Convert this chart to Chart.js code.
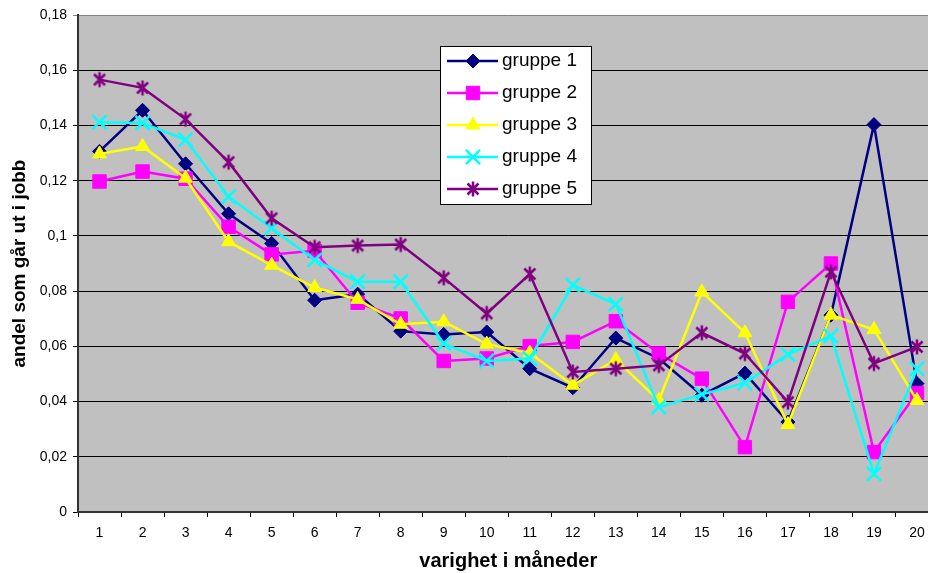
<!DOCTYPE html>
<html>
<head>
<meta charset="utf-8">
<script src="https://cdn.jsdelivr.net/npm/chart.js@4.4.1/dist/chart.umd.min.js"></script>
<style>
  html, body { margin: 0; padding: 0; background: #fff; overflow: hidden; }
  #wrap { width: 951px; height: 573px; }
</style>
</head>
<body>
<div id="wrap"><canvas id="chart"></canvas></div>
<script>
// months 1..20
const months = ['1','2','3','4','5','6','7','8','9','10','11','12','13','14','15','16','17','18','19','20'];

const gruppe1 = [0.1306, 0.1455, 0.1261, 0.1080, 0.0973, 0.0767, 0.0789, 0.0655, 0.0643, 0.0652,
                 0.0519, 0.0450, 0.0630, 0.0556, 0.0423, 0.0503, 0.0326, 0.0713, 0.1403, 0.0465];
const gruppe2 = [0.1197, 0.1233, 0.1207, 0.1033, 0.0933, 0.0946, 0.0758, 0.0701, 0.0547, 0.0556,
                 0.0601, 0.0616, 0.0691, 0.0574, 0.0483, 0.0235, 0.0761, 0.0900, 0.0217, 0.0431];
const gruppe3 = [0.1297, 0.1324, 0.1209, 0.0979, 0.0894, 0.0813, 0.0770, 0.0680, 0.0689, 0.0608,
                 0.0576, 0.0459, 0.0552, 0.0404, 0.0797, 0.0649, 0.0317, 0.0713, 0.0661, 0.0404];
const gruppe4 = [0.1412, 0.1409, 0.1348, 0.1142, 0.1028, 0.0913, 0.0834, 0.0834, 0.0610, 0.0547,
                 0.0556, 0.0822, 0.0753, 0.0380, 0.0426, 0.0467, 0.0571, 0.0638, 0.0138, 0.0519];
const gruppe5 = [0.1566, 0.1536, 0.1423, 0.1267, 0.1064, 0.0959, 0.0965, 0.0969, 0.0848, 0.0719,
                 0.0862, 0.0507, 0.0519, 0.0531, 0.0649, 0.0574, 0.0398, 0.0870, 0.0538, 0.0598];

const seriesNames = ['gruppe 1', 'gruppe 2', 'gruppe 3', 'gruppe 4', 'gruppe 5'];

const FONT = "'Liberation Sans', Arial, sans-serif";

// asterisk marker like the excel one (X plus a vertical bar)
function makeStar(color) {
  const c = document.createElement('canvas');
  c.width = 18; c.height = 18;
  const g = c.getContext('2d');
  g.strokeStyle = color;
  g.lineWidth = 2.5;
  g.lineCap = 'butt';
  g.beginPath();
  g.moveTo(9, 1.5); g.lineTo(9, 16.5);
  g.moveTo(3.5, 3.5); g.lineTo(14.5, 14.5);
  g.moveTo(14.5, 3.5); g.lineTo(3.5, 14.5);
  g.stroke();
  return c;
}

const bgPlugin = {
  id: 'plotBg',
  beforeDraw(chart) {
    const { ctx, chartArea: a } = chart;
    ctx.save();
    ctx.fillStyle = '#c0c0c0';
    ctx.fillRect(a.left, a.top, a.right - a.left, a.bottom - a.top);
    ctx.restore();
  }
};

const legendPlugin = {
  id: 'boxLegend',
  afterDraw(chart) {
    const ctx = chart.ctx;
    ctx.save();
    ctx.fillStyle = '#fff';
    ctx.strokeStyle = '#000';
    ctx.lineWidth = 1;
    ctx.fillRect(440.5, 46.5, 151, 158);
    ctx.strokeRect(440.5, 46.5, 151, 158);
    chart.data.datasets.forEach((ds, i) => {
      const y = 61 + i * 32;
      ctx.strokeStyle = ds.borderColor;
      ctx.lineWidth = ds.borderWidth;
      ctx.beginPath();
      ctx.moveTo(447, y);
      ctx.lineTo(498, y);
      ctx.stroke();
      ctx.fillStyle = ds.pointBackgroundColor;
      ctx.strokeStyle = ds.pointBorderColor;
      ctx.lineWidth = ds.pointBorderWidth;
      Chart.helpers.drawPoint(ctx, {
        pointStyle: ds.pointStyle,
        radius: ds.pointRadius,
        borderWidth: ds.pointBorderWidth,
        rotation: 0
      }, 473, y);
      ctx.fillStyle = '#000';
      ctx.font = '19px ' + FONT;
      ctx.textBaseline = 'middle';
      ctx.textAlign = 'left';
      ctx.fillText(ds.label, 502, y);
    });
    ctx.restore();
  }
};

function line(label, data, color, style, radius, bw, order) {
  return {
    label,
    data,
    borderColor: color,
    backgroundColor: color,
    borderWidth: 2.5,
    pointStyle: style,
    pointRadius: radius,
    pointHoverRadius: radius,
    pointBackgroundColor: color,
    pointBorderColor: color,
    pointBorderWidth: bw,
    tension: 0,
    fill: false,
    order
  };
}

new Chart(document.getElementById('chart').getContext('2d'), {
  type: 'line',
  data: {
    labels: months,
    datasets: [
      line(seriesNames[0], gruppe1, '#000080', 'rectRot', 7, 1, 5),
      line(seriesNames[1], gruppe2, '#ff00ff', 'rect', 9.5, 1, 4),
      line(seriesNames[2], gruppe3, '#ffff00', 'triangle', 8, 1, 3),
      line(seriesNames[3], gruppe4, '#00ffff', 'crossRot', 10, 2.5, 2),
      line(seriesNames[4], gruppe5, '#800080', makeStar('#800080'), 8, 2.5, 1)
    ]
  },
  options: {
    responsive: true,
    maintainAspectRatio: false,
    animation: false,
    layout: { padding: { top: 15, right: 1, left: 0, bottom: 0 } },
    plugins: {
      legend: { display: false },
      tooltip: { enabled: false }
    },
    scales: {
      x: {
        offset: true,
        grid: { display: true, drawOnChartArea: false, offset: true, tickLength: 5, color: '#000' },
        border: { color: '#333', width: 2 },
        ticks: { color: '#000', font: { family: FONT, size: 14 }, padding: 8, maxRotation: 0, autoSkip: false },
        title: { display: true, text: 'varighet i måneder', color: '#000',
                 font: { family: FONT, size: 20, weight: 'bold' }, padding: { top: 0, bottom: 0 } },
        afterFit(scale) { scale.height = 61; }
      },
      y: {
        min: 0,
        max: 0.18,
        ticks: {
          stepSize: 0.02,
          color: '#000',
          font: { family: FONT, size: 14 },
          padding: 6,
          callback: v => parseFloat(v.toFixed(2)).toString().replace('.', ',')
        },
        grid: {
          tickLength: 5,
          color: c => (c.tick && c.tick.value > 0.17) ? '#808080' : '#000',
          lineWidth: 1
        },
        border: { color: '#333', width: 2 },
        title: { display: true, text: 'andel som går ut i jobb', color: '#000',
                 font: { family: FONT, size: 19, weight: 'bold' }, padding: { top: 8, bottom: 0 } },
        afterFit(scale) { scale.width = 78; }
      }
    }
  },
  plugins: [bgPlugin, legendPlugin]
});
</script>
</body>
</html>
